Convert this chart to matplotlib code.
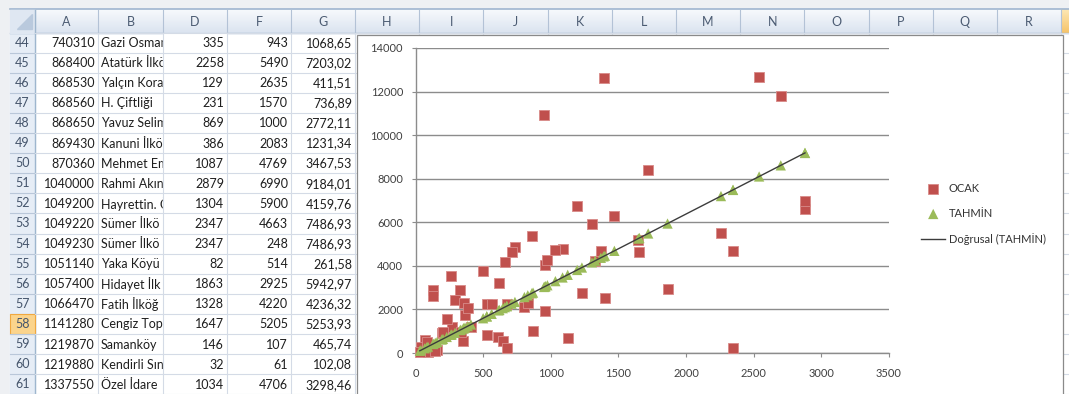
import matplotlib.pyplot as plt
from matplotlib.patches import Rectangle, Polygon
from matplotlib.colors import LinearSegmentedColormap
import numpy as np

plt.rcParams['font.family'] = ['Lato', 'DejaVu Sans']

W, H = 1069, 394

# rows 44-61 of the sheet
satir = list(range(44, 62))
kod = [740310, 868400, 868530, 868560, 868650, 869430, 870360, 1040000, 1049200,
       1049220, 1049230, 1051140, 1057400, 1066470, 1141280, 1219870, 1219880, 1337550]
okul = ['Gazi Osman', 'Atatürk İlkö', 'Yalçın Kora', 'H. Çiftliği', 'Yavuz Selim',
        'Kanuni İlkö', 'Mehmet Em', 'Rahmi Akın', 'Hayrettin. Ö', 'Sümer İlkö',
        'Sümer İlkö', 'Yaka Köyü', 'Hidayet İlk', 'Fatih İlköğ', 'Cengiz Top',
        'Samanköy', 'Kendirli Sın', 'Özel İdare']
ogrenci = [335, 2258, 129, 231, 869, 386, 1087, 2879, 1304, 2347, 2347, 82, 1863, 1328, 1647, 146, 32, 1034]
ocak = [943, 5490, 2635, 1570, 1000, 2083, 4769, 6990, 5900, 4663, 248, 514, 2925, 4220, 5205, 107, 61, 4706]
tahmin = [1068.65, 7203.02, 411.51, 736.89, 2772.11, 1231.34, 3467.53, 9184.01, 4159.76, 7486.93,
          7486.93, 261.58, 5942.97, 4236.32, 5253.93, 465.74, 102.08, 3298.46]

# remaining rows of the sheet (above row 44)
ogrenci_ust = [1390, 950, 2540, 2700, 1720, 1195, 2879, 1470, 1655, 1370,
               1400, 1230, 1125, 960, 975, 860, 735, 710, 660, 500,
               620, 262, 132, 330, 292, 355, 366, 527, 563, 675,
               805, 830, 958, 268, 194, 410, 354, 527, 613, 645,
               675, 68, 40, 92, 160, 203]
ocak_ust = [12620, 10910, 12680, 11800, 8400, 6760, 6600, 6300, 4640, 4660,
            2520, 2740, 700, 4040, 4270, 5370, 4880, 4650, 4160, 3760,
            3200, 3550, 2890, 2890, 2430, 2280, 1745, 2250, 2250, 2230,
            2100, 2280, 1930, 1210, 900, 1210, 560, 830, 750, 560,
            215, 600, 290, 30, 130, 980]
tahmin_ust = [4434.1, 3030.5, 8102.6, 8613.0, 5486.8, 3812.05, 9184.01, 4689.3, 5279.45, 4370.3,
              4466.0, 3923.7, 3588.75, 3062.4, 3110.25, 2743.4, 2344.65, 2264.9, 2105.4, 1595.0,
              1977.8, 835.78, 421.08, 1052.7, 931.48, 1132.45, 1167.54, 1681.13, 1795.97, 2153.25,
              2567.95, 2647.7, 3056.02, 854.92, 618.86, 1307.9, 1129.26, 1681.13, 1955.47, 2057.55,
              2153.25, 216.92, 127.6, 293.48, 510.4, 647.57]

sutunlar = ['A', 'B', 'D', 'F', 'G', 'H', 'I', 'J', 'K', 'L', 'M', 'N', 'O', 'P', 'Q', 'R']

fig = plt.figure(figsize=(W / 100, H / 100), dpi=100)
bg = fig.add_axes([0, 0, 1, 1])
bg.set_xlim(0, W)
bg.set_ylim(H, 0)
bg.axis('off')

# sheet background
bg.add_patch(Rectangle((0, 0), W, H, color='#eef0f3', zorder=0))
bg.add_patch(Rectangle((10, 10), W - 10, H - 10, color='white', zorder=0))

kenar = [10, 35, 98, 163, 227, 291, 355] + [355 + 64.2 * k for k in range(1, 12)]
ust, satir_h = 32.5, 20.1

# column header strip
baslik_cmap = LinearSegmentedColormap.from_list('bas', ['#f7f9fc', '#dbe4f0'])
bg.imshow(np.linspace(0, 1, 20).reshape(-1, 1), cmap=baslik_cmap, extent=(10, W, ust, 9),
          aspect='auto', zorder=1)
turuncu = LinearSegmentedColormap.from_list('tur', ['#fde7b3', '#f6c46a'])
bg.imshow(np.linspace(0, 1, 20).reshape(-1, 1), cmap=turuncu, extent=(kenar[-1], W, ust, 9),
          aspect='auto', zorder=1)
bg.plot([10, W], [9, 9], color='#9fb5cf', lw=1.2, zorder=2)
bg.plot([10, W], [ust, ust], color='#9eb6ce', lw=1, zorder=2)
for xk in kenar[1:]:
    bg.plot([xk, xk], [10, ust], color='#b3c2d6', lw=0.8, zorder=2)
for i, harf in enumerate(sutunlar):
    bg.text((kenar[i + 1] + kenar[i + 2]) / 2, 21.5, harf, ha='center', va='center',
            fontsize=9, color='#4b5b72', zorder=3)
# select-all corner
bg.add_patch(Rectangle((10, 10), 25, ust - 10, color='#dfe7f2', zorder=2))
bg.add_patch(Polygon([[32, 14], [32, 29], [17, 29]], closed=True, color='#b9c9dd', zorder=3))

# row headers
bg.add_patch(Rectangle((10, ust), 25, H - ust, color='#e6edf6', zorder=1))
bg.plot([35, 35], [10, H], color='#9eb6ce', lw=1, zorder=2)
for i, no in enumerate(satir):
    y0 = ust + i * satir_h
    if no == 58:
        bg.add_patch(Rectangle((10, y0), 25, satir_h, facecolor='#fbd48c',
                               edgecolor='#f0a840', lw=0.8, zorder=2))
    bg.plot([10, 35], [y0 + satir_h, y0 + satir_h], color='#b9c7d9', lw=0.8, zorder=2)
    bg.text(22.5, y0 + satir_h / 2, str(no), ha='center', va='center', fontsize=9,
            color='#45556c', zorder=3)

# names run past column B; the D column background hides the overflow
bg.add_patch(Rectangle((kenar[3] + 0.4, ust), kenar[4] - kenar[3] - 0.8, H - ust,
                       color='white', zorder=2.6))

# cell grid
for i in range(len(satir) + 1):
    y0 = ust + i * satir_h
    bg.plot([35, W], [y0, y0], color='#d4dbe6', lw=0.8, zorder=2.8)
for xk in kenar[2:]:
    bg.plot([xk, xk], [ust, H], color='#d4dbe6', lw=0.8, zorder=2.8)

# cell values
metin = '#1e1e1e'
for i in range(len(satir)):
    yc = ust + i * satir_h + satir_h / 2 + 0.5
    bg.text(kenar[2] - 3, yc, str(kod[i]), ha='right', va='center', fontsize=9, color=metin, zorder=3)
    bg.text(kenar[2] + 3, yc, okul[i], ha='left', va='center', fontsize=9, color=metin, zorder=2.5)
    bg.text(kenar[4] - 3, yc, str(ogrenci[i]), ha='right', va='center', fontsize=9, color=metin, zorder=3)
    bg.text(kenar[5] - 3, yc, str(ocak[i]), ha='right', va='center', fontsize=9, color=metin, zorder=3)
    bg.text(kenar[6] - 3, yc, f'{tahmin[i]:.2f}'.replace('.', ','), ha='right', va='center',
            fontsize=9, color=metin, zorder=3)

# chart area
bg.add_patch(Rectangle((357, 35), 1063 - 357, H - 30, facecolor='white',
                       edgecolor='#8a8a8a', lw=0.9, zorder=5))

x_hepsi = ogrenci_ust + ogrenci
ocak_hepsi = ocak_ust + ocak
tahmin_hepsi = tahmin_ust + tahmin

ax = fig.add_axes([415.5 / W, 1 - 353 / H, (889 - 415.5) / W, (353 - 48) / H])
ax.set_zorder(3)
ax.patch.set_alpha(0)
ax.set_xlim(0, 3500)
ax.set_ylim(0, 14000)
ax.set_xticks(range(0, 3501, 500))
ax.set_yticks(range(0, 14001, 2000))
ax.grid(axis='y', color='#8c8c8c', lw=1)
ax.set_axisbelow(True)
for s in ['top', 'right']:
    ax.spines[s].set_visible(False)
for s in ['left', 'bottom']:
    ax.spines[s].set_color('#8c8c8c')
    ax.spines[s].set_linewidth(1)
ax.tick_params(direction='out', length=3, color='#8c8c8c', labelsize=8, labelcolor='#404040')
ax.tick_params(axis='x', pad=8)
ax.tick_params(axis='y', pad=6)

ax.scatter(x_hepsi, ocak_hepsi, marker='s', s=50, c='#c0504d', edgecolors='#d98b89',
           linewidths=0.6, zorder=3, clip_on=False, label='OCAK')
ax.scatter(x_hepsi, tahmin_hepsi, marker='^', s=55, c='#9bbb59', edgecolors='none',
           zorder=4, clip_on=False, label='TAHMİN')
egim, kesisim = np.polyfit(x_hepsi, tahmin_hepsi, 1)
xl = np.array([min(x_hepsi), max(x_hepsi)])
ax.plot(xl, egim * xl + kesisim, color='#3c3c3c', lw=1, zorder=5, label='Doğrusal (TAHMİN)')

fig.legend(loc='upper left', bbox_to_anchor=(921 / W, 1 - 183 / H), frameon=False,
           fontsize=8, labelspacing=1.25, handlelength=2.2, handletextpad=0.3,
           borderpad=0, borderaxespad=0, labelcolor='#333333', scatterpoints=1)

fig.savefig('out.png', dpi=100)
